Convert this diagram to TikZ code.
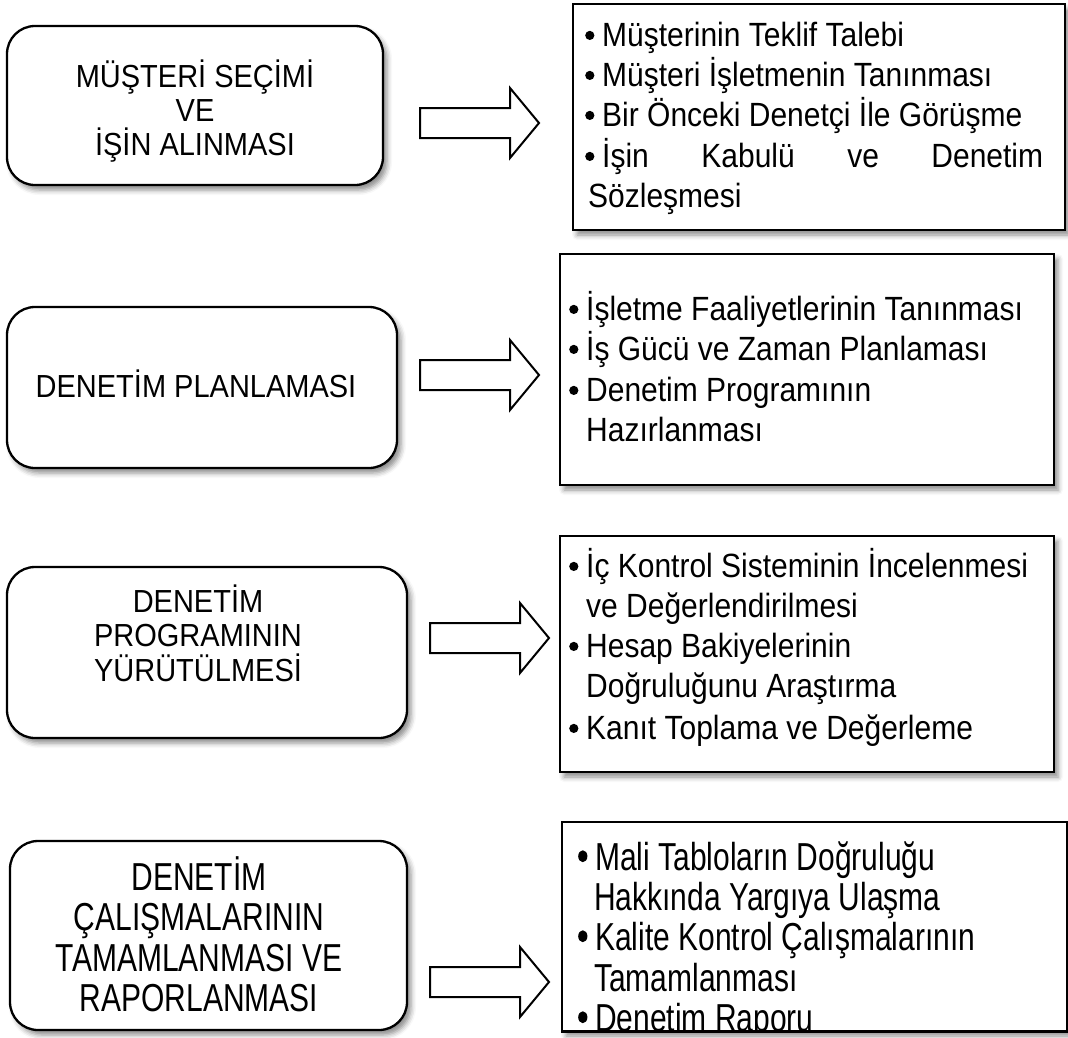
\documentclass[tikz,border=0pt]{standalone}
\usepackage{fontspec}
\setmainfont{Liberation Sans}
\usetikzlibrary{shadows.blur}
% round list bullet followed by the item text
\newcommand\bul{\makebox[17pt][l]{\raisebox{6pt}{\tikz\fill (0,0) circle (4.6pt);}}}
% vertically stretched text
\newcommand\vst[2]{\scalebox{1}[#1]{#2}}
\begin{document}
\begin{tikzpicture}[x=1pt,y=-1pt,
  softshadow/.style={blur shadow={shadow xshift=4pt,shadow yshift=-5pt,shadow blur radius=5pt,shadow opacity=45}},
  stage/.style={draw,line width=2.3pt,rounded corners=28pt,fill=white,softshadow,inner sep=0pt},
  listbox/.style={draw,line width=2.3pt,fill=white,softshadow,inner sep=0pt},
  stageline/.style={anchor=base,inner sep=0pt,font=\fontsize{29}{32}\selectfont},
  item/.style={anchor=base west,inner sep=0pt,font=\fontsize{30}{36}\selectfont},
  blockarrow/.pic={\draw[line width=2pt,fill=white]
    (0,-15) -- (90,-15) -- (90,-35) -- (119,0) -- (90,35) -- (90,15) -- (0,15) -- cycle;}]
\useasboundingbox (0,0) rectangle (1068,1037);

% ---- stage boxes (left column)
\node[stage,minimum width=376pt,minimum height=159pt] (s1) at (195,105.5) {};
\node[stage,minimum width=390pt,minimum height=161pt] (s2) at (202,387.5) {};
\node[stage,minimum width=400pt,minimum height=171pt] (s3) at (207,652.5) {};
\node[stage,minimum width=397pt,minimum height=189pt] (s4) at (208.5,935.5) {};

\node[stageline] (t1a) at (195,87) {\vst{1.1}{MÜŞTERİ SEÇİMİ}};
\node[stageline] (t1b) at (195,121) {\vst{1.1}{VE}};
\node[stageline] (t1c) at (195,155) {\vst{1.1}{İŞİN ALINMASI}};

\node[stageline] (t2a) at (196,397) {\vst{1.1}{DENETİM PLANLAMASI}};

\node[stageline] (t3a) at (198,612) {\vst{1.1}{DENETİM}};
\node[stageline] (t3b) at (198,646) {\vst{1.1}{PROGRAMININ}};
\node[stageline] (t3c) at (198,681) {\vst{1.1}{YÜRÜTÜLMESİ}};

\node[stageline,font=\fontsize{30}{36}\selectfont] (t4a) at (199,890) {\vst{1.3}{DENETİM}};
\node[stageline,font=\fontsize{30}{36}\selectfont] (t4b) at (199,930.5) {\vst{1.3}{ÇALIŞMALARININ}};
\node[stageline,font=\fontsize{30}{36}\selectfont] (t4c) at (199,971) {\vst{1.3}{TAMAMLANMASI VE}};
\node[stageline,font=\fontsize{30}{36}\selectfont] (t4d) at (199,1011.5) {\vst{1.3}{RAPORLANMASI}};

% ---- block arrows
\pic at (420,123) {blockarrow};
\pic at (420,375) {blockarrow};
\pic at (430,638) {blockarrow};
\pic at (430,982) {blockarrow};

% ---- detail boxes (right column)
\node[listbox,minimum width=492pt,minimum height=226pt] (r1) at (819,117) {};
\node[listbox,minimum width=494pt,minimum height=231pt] (r2) at (807,369.5) {};
\node[listbox,minimum width=494pt,minimum height=236pt] (r3) at (807,654) {};
\node[listbox,minimum width=505pt,minimum height=209pt] (r4) at (814.5,926.5) {};

% items of r1
\node[item] (r1a) at (585,46) {\bul\vst{1.12}{Müşterinin Teklif Talebi}};
\node[item] (r1b) at (585,86) {\bul\vst{1.12}{Müşteri İşletmenin Tanınması}};
\node[item] (r1c) at (585,126) {\bul\vst{1.12}{Bir Önceki Denetçi İle Görüşme}};
\node[item] (r1d) at (585,167) {\bul\vst{1.12}{\makebox[441pt][s]{İşin Kabulü ve Denetim}}};
\node[item] (r1e) at (588,207) {\vst{1.12}{Sözleşmesi}};

% items of r2
\node[item] (r2a) at (569,320) {\bul\vst{1.12}{İşletme Faaliyetlerinin Tanınması}};
\node[item] (r2b) at (569,360) {\bul\vst{1.12}{İş Gücü ve Zaman Planlaması}};
\node[item] (r2c) at (569,401) {\bul\vst{1.12}{Denetim Programının}};
\node[item] (r2d) at (586,441) {\vst{1.12}{Hazırlanması}};

% items of r3
\node[item] (r3a) at (569,577) {\bul\vst{1.12}{İç Kontrol Sisteminin İncelenmesi}};
\node[item] (r3b) at (586,617) {\vst{1.12}{ve Değerlendirilmesi}};
\node[item] (r3c) at (569,657) {\bul\vst{1.12}{Hesap Bakiyelerinin}};
\node[item] (r3d) at (586,697) {\vst{1.12}{Doğruluğunu Araştırma}};
\node[item] (r3e) at (569,739) {\bul\vst{1.12}{Kanıt Toplama ve Değerleme}};

% items of r4 (last line runs into the frame)
\begin{scope}
\clip (r4.north west) rectangle ([yshift=1.2pt]r4.south east);
\node[item] (r4a) at (578,870) {\vst{1.3}{\bul Mali Tabloların Doğruluğu}};
\node[item] (r4b) at (594,910) {\vst{1.3}{Hakkında Yargıya Ulaşma}};
\node[item] (r4c) at (578,950) {\vst{1.3}{\bul Kalite Kontrol Çalışmalarının}};
\node[item] (r4d) at (594,991) {\vst{1.3}{Tamamlanması}};
\node[item] (r4e) at (578,1031) {\vst{1.3}{\bul Denetim Raporu}};
\end{scope}
\draw[line width=2.3pt] (r4.south west) -- (r4.south east);
\end{tikzpicture}
\end{document}
